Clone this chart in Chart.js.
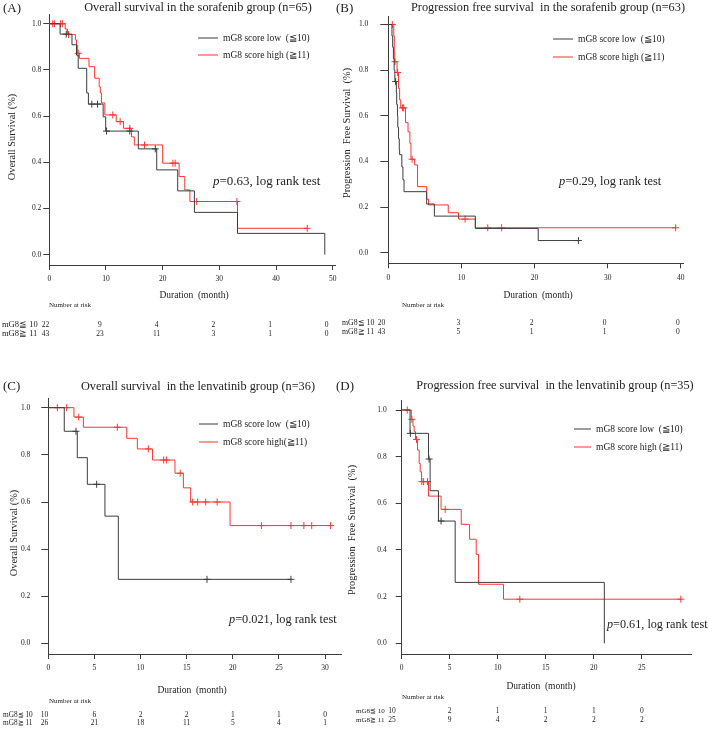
<!DOCTYPE html>
<html>
<head>
<meta charset="utf-8">
<script src="https://cdn.jsdelivr.net/npm/chart.js@4.4.1/dist/chart.umd.min.js"></script>
<style>
  body { margin: 0; background: #fff; }
  #wrap { position: relative; width: 709px; height: 729px; }
  #wrap canvas { position: absolute; left: 0; top: 0; }
</style>
</head>
<body>
<div id="wrap">
  <canvas id="cA" width="709" height="729"></canvas>
  <canvas id="cB" width="709" height="729"></canvas>
  <canvas id="cC" width="709" height="729"></canvas>
  <canvas id="cD" width="709" height="729"></canvas>
</div>
<script>
// survival steps are [month, survival]; censor lists are months only
const yTicks = [0, 0.2, 0.4, 0.6, 0.8, 1.0];

// (A) sorafenib, overall survival
const sorOsLow = [[0,1],[1.9,0.955],[4.0,0.909],[4.8,0.864],[5.1,0.807],[6.6,0.70],[6.9,0.652],[9.5,0.597],[9.95,0.535],[15.7,0.458],[18.95,0.367],[22.65,0.276],[25.6,0.183],[33.2,0.092],[48.6,0]];
const sorOsLowCens = [3.0, 7.5, 8.5, 10.1, 14.2, 18.7];
const sorOsHigh = [[0,1],[2.8,0.977],[3.2,0.953],[4.6,0.93],[4.8,0.907],[5.0,0.872],[5.3,0.85],[7.0,0.814],[8.0,0.764],[8.8,0.727],[9.0,0.70],[9.2,0.657],[9.8,0.605],[11.8,0.576],[13.1,0.547],[14.5,0.51],[15.0,0.475],[20.0,0.396],[22.9,0.338],[23.9,0.28],[24.8,0.23],[33.2,0.114],[45.5,0.114]];
const sorOsHighCens = [0.6, 0.9, 2.0, 2.3, 3.4, 5.1, 11.2, 12.5, 14.2, 16.8, 21.8, 22.2, 26.0, 33.1, 45.5];
const sorOsTicks = [0, 10, 20, 30, 40, 50];
const sorOsRiskLow = [22, 9, 4, 2, 1, 0];
const sorOsRiskHigh = [43, 23, 11, 3, 1, 0];

// (B) sorafenib, progression free survival
const sorPfsLow = [[0,1],[0.5,0.95],[0.6,0.90],[0.7,0.85],[0.8,0.80],[0.9,0.75],[1.1,0.70],[1.15,0.65],[1.25,0.60],[1.3,0.55],[1.4,0.50],[1.5,0.45],[1.55,0.43],[1.85,0.376],[2.0,0.32],[2.15,0.268],[5.25,0.214],[6.3,0.161],[11.9,0.107],[20.5,0.054],[26.0,0.054]];
const sorPfsLowCens = [1.0, 26.0];
const sorPfsHigh = [[0,1],[0.75,0.95],[0.82,0.88],[0.88,0.837],[1.2,0.79],[1.4,0.72],[1.55,0.67],[1.7,0.635],[2.35,0.57],[2.7,0.53],[2.95,0.48],[3.1,0.41],[3.6,0.385],[4.0,0.29],[5.25,0.235],[5.5,0.21],[8.2,0.176],[9.6,0.148],[11.9,0.11],[39.3,0.11]];
const sorPfsHighCens = [0.55, 0.92, 1.27, 1.95, 2.1, 3.25, 10.5, 13.6, 15.5, 39.3];
const sorPfsTicks = [0, 10, 20, 30, 40];
const sorPfsRiskLow = [20, 3, 2, 0, 0];
const sorPfsRiskHigh = [43, 5, 1, 1, 0];

// (C) lenvatinib, overall survival
const lenOsLow = [[0,1],[1.73,0.9],[3.14,0.788],[4.23,0.675],[6.14,0.54],[7.59,0.272],[26.3,0.272]];
const lenOsLowCens = [3.0, 5.24, 17.2, 26.3];
const lenOsHigh = [[0,1],[2.78,0.96],[3.8,0.917],[8.5,0.87],[9.65,0.825],[11.3,0.778],[13.73,0.722],[14.64,0.66],[15.43,0.60],[19.7,0.50],[30.6,0.50]];
const lenOsHighCens = [0.98, 1.99, 3.3, 7.48, 10.84, 12.5, 12.8, 14.3, 15.65, 16.19, 17.06, 18.3, 23.1, 26.3, 27.7, 28.55, 30.6];
const lenOsTicks = [0, 5, 10, 15, 20, 25, 30];
const lenOsRiskLow = [10, 6, 2, 2, 1, 1, 0];
const lenOsRiskHigh = [26, 21, 18, 11, 5, 4, 1];

// (D) lenvatinib, progression free survival
const lenPfsLow = [[0,1],[0.87,0.90],[2.79,0.79],[2.96,0.654],[3.83,0.524],[5.57,0.261],[21.1,0]];
const lenPfsLowCens = [0.9, 2.85, 4.1];
const lenPfsHigh = [[0,1],[1.0,0.96],[1.18,0.931],[1.3,0.907],[1.44,0.874],[1.65,0.828],[1.82,0.771],[1.93,0.735],[2.07,0.693],[2.79,0.631],[4.1,0.574],[6.2,0.51],[7.07,0.446],[7.76,0.381],[8.0,0.253],[10.6,0.189],[29.07,0.189]];
const lenPfsHighCens = [0.58, 1.06, 1.54, 2.1, 2.28, 2.69, 4.53, 12.3, 29.07];
const lenPfsTicks = [0, 5, 10, 15, 20, 25];
const lenPfsRiskLow = [10, 2, 1, 1, 1, 0];
const lenPfsRiskHigh = [25, 9, 4, 2, 2, 2];

const SERIF = "'Liberation Serif', 'DejaVu Serif', serif";
const DARK = "#3c3c3c";
const RED = "#ff3434";
const TXT = "#222";

function survAt(steps, t) {
  let s = steps[0][1];
  steps.forEach(p => { if (p[0] <= t) s = p[1]; });
  return s;
}

function text(ctx, s, x, y, size, align, rot) {
  ctx.save();
  ctx.font = size + "px " + SERIF;
  ctx.fillStyle = TXT;
  ctx.textAlign = align || "left";
  ctx.textBaseline = "middle";
  ctx.translate(x, y);
  if (rot) ctx.rotate(rot);
  ctx.fillText(s, 0, 0);
  ctx.restore();
}

const labelsPlugin = {
  id: "kmText",
  afterDraw(chart) {
    const p = chart.options.plugins.kmText;
    const ctx = chart.ctx;
    const xs = chart.scales.x;
    text(ctx, p.tag[0], p.tag[1], p.tag[2], 13, "left");
    text(ctx, p.title[0], p.title[1], p.title[2], 12.3, "center");
    text(ctx, p.yTitle[0], p.yTitle[1], p.yTitle[2], 10.3, "center", -Math.PI / 2);
    text(ctx, "Duration  (month)", p.xTitle[0], p.xTitle[1], 9.5, "center");
    text(ctx, "Number at risk", p.nar[0], p.nar[1], 7, "left");

    // legend
    const lg = p.legend;
    [DARK, RED].forEach((c, i) => {
      ctx.save();
      ctx.strokeStyle = c;
      ctx.lineWidth = 1;
      ctx.beginPath();
      ctx.moveTo(lg.x1, lg.y[i]);
      ctx.lineTo(lg.x2, lg.y[i]);
      ctx.stroke();
      ctx.restore();
      text(ctx, lg.labels[i], lg.tx, lg.y[i], 9.5, "left");
    });

    // p value, italic p
    const ps = p.pval[3];
    ctx.save();
    ctx.font = "italic " + ps + "px " + SERIF;
    const pw = ctx.measureText("p").width;
    ctx.restore();
    text(ctx, "p", p.pval[1], p.pval[2], "italic " + ps, "left");
    text(ctx, "=" + p.pval[0] + ", log rank test", p.pval[1] + pw, p.pval[2], ps, "left");

    // number at risk table
    const rk = p.risk;
    ["mG8\u2266 10", "mG8\u2267 11"].forEach((lab, r) => {
      const vals = r === 0 ? rk.low : rk.high;
      text(ctx, lab, rk.labelX, rk.y[r], rk.labelSize, "left");
      vals.forEach((v, i) => {
        const px = xs.getPixelForValue(rk.times[i]);
        if (i === 0) text(ctx, String(v), px + rk.first, rk.y[r], 7.5, "right");
        else text(ctx, String(v), px + rk.shift, rk.y[r], 7.5, "center");
      });
    });
  }
};

function makePanel(id, p) {
  const yW = 30, xH = 30;
  const a = p.area;
  const pts = arr => arr.map(q => ({ x: q[0], y: q[1] }));
  const cens = (steps, ts) => ts.map(t => ({ x: t, y: survAt(steps, t) }));
  const stepSet = (d, c) => ({ data: pts(d), borderColor: c, borderWidth: 1, stepped: true, pointRadius: 0, fill: false });
  const censSet = (d, ts, c) => ({ data: cens(d, ts), showLine: false, pointStyle: "cross", pointRadius: 3.5,
    pointBorderColor: c, pointBorderWidth: 1, borderColor: c });
  const axisFont = { family: SERIF, size: 7.5 };

  new Chart(document.getElementById(id), {
    type: "line",
    data: {
      datasets: [
        stepSet(p.low, DARK),
        stepSet(p.high, RED),
        censSet(p.low, p.lowCens, DARK),
        censSet(p.high, p.highCens, RED)
      ]
    },
    options: {
      responsive: false,
      animation: false,
      events: [],
      layout: {
        autoPadding: false,
        padding: { left: a[0] - yW, top: a[1], right: 709 - a[2], bottom: 729 - a[3] - xH }
      },
      plugins: {
        legend: { display: false },
        tooltip: { enabled: false },
        kmText: p.text
      },
      scales: {
        x: {
          type: "linear", min: 0, max: p.xMax,
          afterFit: s => { s.height = xH; },
          afterBuildTicks: s => { s.ticks = p.ticks.map(v => ({ value: v })); },
          grid: { drawOnChartArea: false, tickLength: 5, color: DARK },
          border: { color: DARK, width: 1 },
          ticks: { padding: 5, font: axisFont, color: TXT, maxRotation: 0, autoSkip: false }
        },
        y: {
          type: "linear", min: p.yMin, max: p.yMax,
          afterFit: s => { s.width = yW; },
          afterBuildTicks: s => { s.ticks = yTicks.map(v => ({ value: v })); },
          grid: { drawOnChartArea: false, tickLength: p.yTick[0], color: DARK },
          border: { color: DARK, width: 1 },
          ticks: { padding: p.yTick[1], font: axisFont, color: TXT, callback: v => v.toFixed(1) }
        }
      }
    },
    plugins: [labelsPlugin]
  });
}

makePanel("cA", {
  area: [49.3, 14.5, 335, 265], xMax: 50.4, yMin: -0.045, yMax: 1.04, yTick: [6, 2],
  low: sorOsLow, lowCens: sorOsLowCens, high: sorOsHigh, highCens: sorOsHighCens, ticks: sorOsTicks,
  text: {
    tag: ["(A)", 3, 9], title: ["Overall survival in the sorafenib group (n=65)", 198, 8],
    yTitle: ["Overall Survival (%)", 12, 137], xTitle: [194, 295], nar: [49, 305],
    legend: { x1: 198, x2: 218, tx: 223, y: [38, 55], labels: ["mG8 score low  (\u226610)", "mG8 score high (\u226711)"] },
    pval: ["0.63", 213, 182, 13],
    risk: { times: sorOsTicks, low: sorOsRiskLow, high: sorOsRiskHigh, y: [325, 334], labelX: 2, labelSize: 8.5, first: 0, shift: -6 }
  }
});

makePanel("cB", {
  area: [388.3, 3, 683, 263.3], xMax: 40.3, yMin: -0.0456, yMax: 1.035, yTick: [8, 12],
  low: sorPfsLow, lowCens: sorPfsLowCens, high: sorPfsHigh, highCens: sorPfsHighCens, ticks: sorPfsTicks,
  text: {
    tag: ["(B)", 336, 9], title: ["Progression free survival  in the sorafenib group (n=63)", 548, 8],
    yTitle: ["Progression  Free Survival  (%)", 347, 133], xTitle: [538, 295], nar: [402, 305],
    legend: { x1: 553, x2: 573, tx: 578, y: [39, 57], labels: ["mG8 score low  (\u226610)", "mG8 score high (\u226711)"] },
    pval: ["0.29", 559, 182, 12.4],
    risk: { times: sorPfsTicks, low: sorPfsRiskLow, high: sorPfsRiskHigh, y: [323, 332], labelX: 342, labelSize: 7.8, first: -3, shift: -3 }
  }
});

makePanel("cC", {
  area: [48.3, 398, 341.7, 654], xMax: 31.8, yMin: -0.0445, yMax: 1.041, yTick: [7, 11],
  low: lenOsLow, lowCens: lenOsLowCens, high: lenOsHigh, highCens: lenOsHighCens, ticks: lenOsTicks,
  text: {
    tag: ["(C)", 3, 387], title: ["Overall survival  in the lenvatinib group (n=36)", 198, 387],
    yTitle: ["Overall Survival (%)", 14, 533], xTitle: [192, 690], nar: [49, 701],
    legend: { x1: 199, x2: 218, tx: 223, y: [424, 442], labels: ["mG8 score low  (\u226610)", "mG8 score high(\u226711)"] },
    pval: ["0.021", 229, 620, 12.3],
    risk: { times: lenOsTicks, low: lenOsRiskLow, high: lenOsRiskHigh, y: [715, 723.5], labelX: 3, labelSize: 7.3, first: 0, shift: 0 }
  }
});

makePanel("cD", {
  area: [401.7, 400.7, 691.7, 654], xMax: 30.2, yMin: -0.046, yMax: 1.04, yTick: [6, 9],
  low: lenPfsLow, lowCens: lenPfsLowCens, high: lenPfsHigh, highCens: lenPfsHighCens, ticks: lenPfsTicks,
  text: {
    tag: ["(D)", 336, 387], title: ["Progression free survival  in the lenvatinib group (n=35)", 555, 386],
    yTitle: ["Progression  Free Survival  (%)", 352, 530], xTitle: [541, 686], nar: [402, 697],
    legend: { x1: 574, x2: 591, tx: 596, y: [429, 447], labels: ["mG8 score low  (\u226610)", "mG8 score high (\u226711)"] },
    pval: ["0.61", 607, 625, 12.2],
    risk: { times: lenPfsTicks, low: lenPfsRiskLow, high: lenPfsRiskHigh, y: [711.5, 720], labelX: 356, labelSize: 7, first: -6, shift: 0 }
  }
});
</script>
</body>
</html>
